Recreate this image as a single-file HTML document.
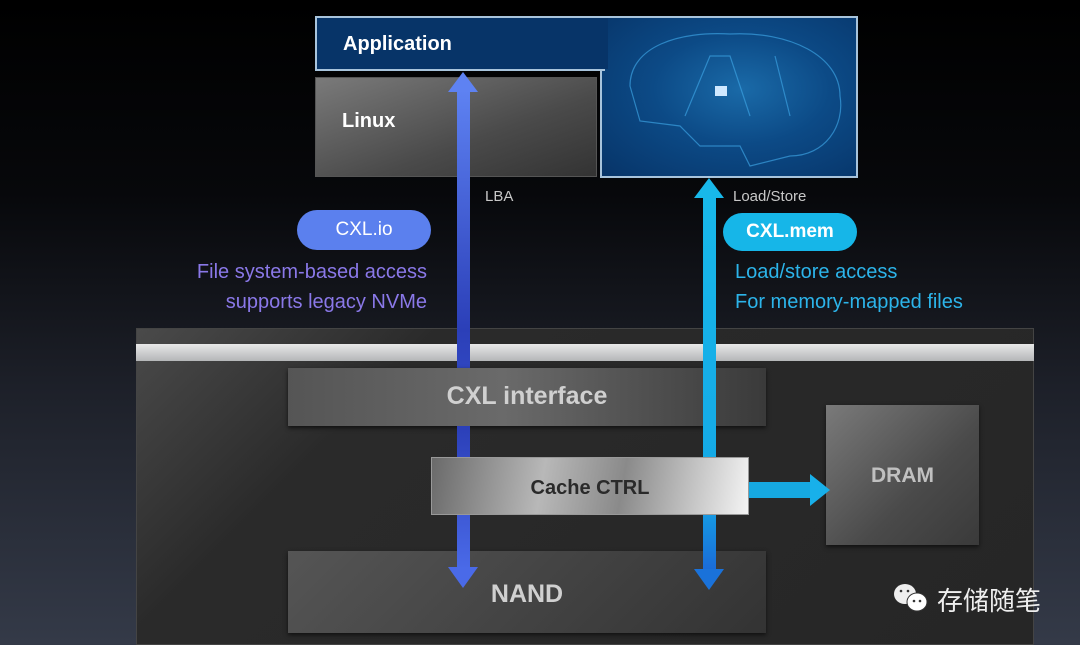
<!DOCTYPE html>
<html><head><meta charset="utf-8"><style>
*{margin:0;padding:0;box-sizing:border-box}
body{width:1080px;height:645px;overflow:hidden;position:relative;background:linear-gradient(180deg,#000 0%,#07080b 30%,#1d2029 60%,#343a48 100%);font-family:"Liberation Sans","Noto Sans CJK SC",sans-serif}
.a{position:absolute}
.t{position:absolute;white-space:nowrap}
</style></head><body>
<!-- application -->
<div class="a" style="left:600px;top:16px;width:258px;height:162px;background:radial-gradient(ellipse at 55% 45%,#1a6aa8 0%,#0c4a86 45%,#073468 100%);border:2px solid #a8c4dc"></div>
<svg class="a" style="left:600px;top:16px" width="258" height="162">
<g fill="none" stroke="#3aa0e0" stroke-width="1.2" opacity="0.7">
<path d="M30 70 C30 30 80 15 130 18 C190 15 240 40 240 80 C245 110 225 140 190 140 L150 150 L140 130 L100 130 L80 110 L40 105 Z"/>
<path d="M85 100 L110 40 L130 40 L150 100 M175 40 L190 100"/>
</g>
<rect x="115" y="70" width="12" height="10" fill="#cfe8ff"/>
</svg>
<div class="a" style="left:315px;top:16px;width:290px;height:55px;background:#073468;border:2px solid #a8c4dc;border-right:none"></div>
<div class="a" style="left:602px;top:18px;width:6px;height:51px;background:#073468"></div>
<div class="t" style="left:343px;top:33px;color:#fff;font-size:20px;font-weight:bold">Application</div>
<!-- linux -->
<div class="a" style="left:315px;top:77px;width:282px;height:100px;background:linear-gradient(160deg,#7a7a7a,#4a4a4a 60%,#333);border:1px solid #555"></div>
<div class="t" style="left:342px;top:110px;color:#fff;font-size:20px;font-weight:bold">Linux</div>
<div class="t" style="left:485px;top:188px;color:#c8c8c8;font-size:15px">LBA</div>
<div class="t" style="left:733px;top:188px;color:#c8c8c8;font-size:15px">Load/Store</div>
<!-- pills -->
<div class="a" style="left:297px;top:210px;width:134px;height:40px;border-radius:20px;background:#5b80ee;color:#fff;font-size:19px;text-align:center;line-height:40px">CXL.io</div>
<div class="a" style="left:723px;top:213px;width:134px;height:38px;border-radius:19px;background:#16b6e8;color:#fff;font-size:19px;font-weight:bold;text-align:center;line-height:38px">CXL.mem</div>
<div class="t" style="right:653px;top:257px;color:#8a78e8;font-size:20px;text-align:right;line-height:30px">File system-based access<br>supports legacy NVMe</div>
<div class="t" style="left:735px;top:257px;color:#2cb4ea;font-size:20px;line-height:30px">Load/store access<br>For memory-mapped files</div>
<!-- device -->
<div class="a" style="left:136px;top:328px;width:898px;height:317px;background:linear-gradient(135deg,#4a4a4a 0%,#2a2a2a 25%,#262626 100%);border:1px solid #444"></div>
<div class="a" style="left:136px;top:344px;width:898px;height:17px;background:linear-gradient(180deg,#e8e8e8,#b4b6b8)"></div>
<svg class="a" style="left:0;top:0" width="1080" height="645">
<defs>
<linearGradient id="lb" x1="0" y1="0" x2="0" y2="1"><stop offset="0" stop-color="#5e82f2"/><stop offset="0.5" stop-color="#2b3fb8"/><stop offset="1" stop-color="#4a6ae8"/></linearGradient>
</defs>
<rect x="457" y="90" width="13" height="480" fill="url(#lb)"/>
<polygon points="463,72 448,92 478,92" fill="#5e82f2"/>
<polygon points="463,588 448,567 478,567" fill="#4a6ae8"/>
</svg>
<div class="a" style="left:288px;top:368px;width:478px;height:58px;background:linear-gradient(90deg,#555 0%,#6a6a6a 45%,#3a3a3a 100%);box-shadow:0 2px 4px #111"></div>
<div class="t" style="left:288px;top:382px;width:478px;text-align:center;color:#d0d0d0;font-size:25px;font-weight:bold">CXL interface</div>
<div class="a" style="left:826px;top:405px;width:153px;height:140px;background:linear-gradient(135deg,#7a7a7a,#4a4a4a 60%,#3a3a3a);box-shadow:0 2px 4px #111"></div>
<div class="t" style="left:826px;top:464px;width:153px;text-align:center;color:#c0c0c0;font-size:21px;font-weight:bold">DRAM</div>
<div class="a" style="left:288px;top:551px;width:478px;height:82px;background:linear-gradient(135deg,#555,#444 50%,#333);box-shadow:0 2px 4px #111"></div>
<div class="t" style="left:288px;top:580px;width:478px;text-align:center;color:#d0d0d0;font-size:25px;font-weight:bold">NAND</div>
<svg class="a" style="left:0;top:0" width="1080" height="645">
<defs>
<linearGradient id="lb2" x1="0" y1="0" x2="0" y2="1"><stop offset="0" stop-color="#2b3fb8"/><stop offset="1" stop-color="#4a6ae8"/></linearGradient>
<linearGradient id="cy" x1="0" y1="0" x2="0" y2="1"><stop offset="0" stop-color="#18b8ea"/><stop offset="0.8" stop-color="#14a8e6"/><stop offset="1" stop-color="#1a6ad8"/></linearGradient>
</defs>
<rect x="457" y="426" width="13" height="144" fill="url(#lb2)"/>
<polygon points="463,588 448,567 478,567" fill="#4a6ae8"/>
<rect x="703" y="196" width="13" height="375" fill="url(#cy)"/>
<polygon points="709,178 694,198 724,198" fill="#18b8ea"/>
<polygon points="709,590 694,569 724,569" fill="#1a72da"/>
<rect x="749" y="482" width="62" height="16" fill="#16a8e0"/>
<polygon points="830,490 810,474 810,506" fill="#18b0ea"/>
</svg>
<div class="a" style="left:431px;top:457px;width:318px;height:58px;background:linear-gradient(100deg,#6a6a6a 0%,#b8b8b8 35%,#8a8a8a 60%,#f4f4f4 100%);border:1px solid #999"></div>
<div class="t" style="left:431px;top:477px;width:318px;text-align:center;color:#2a2a2a;font-size:20px;font-weight:bold">Cache CTRL</div>
<!-- watermark -->
<svg class="a" style="left:892px;top:582px" width="40" height="32"><ellipse cx="13" cy="12" rx="11" ry="10" fill="#eee"/><ellipse cx="25" cy="20" rx="10" ry="9" fill="#fff" stroke="#333" stroke-width="1"/><circle cx="22" cy="19" r="1.3" fill="#333"/><circle cx="28" cy="19" r="1.3" fill="#333"/><circle cx="9" cy="9" r="1.3" fill="#333"/><circle cx="16" cy="9" r="1.3" fill="#333"/></svg>
<div class="t" style="left:937px;top:581px;color:#eee;font-size:26px">存储随笔</div>
</body></html>
